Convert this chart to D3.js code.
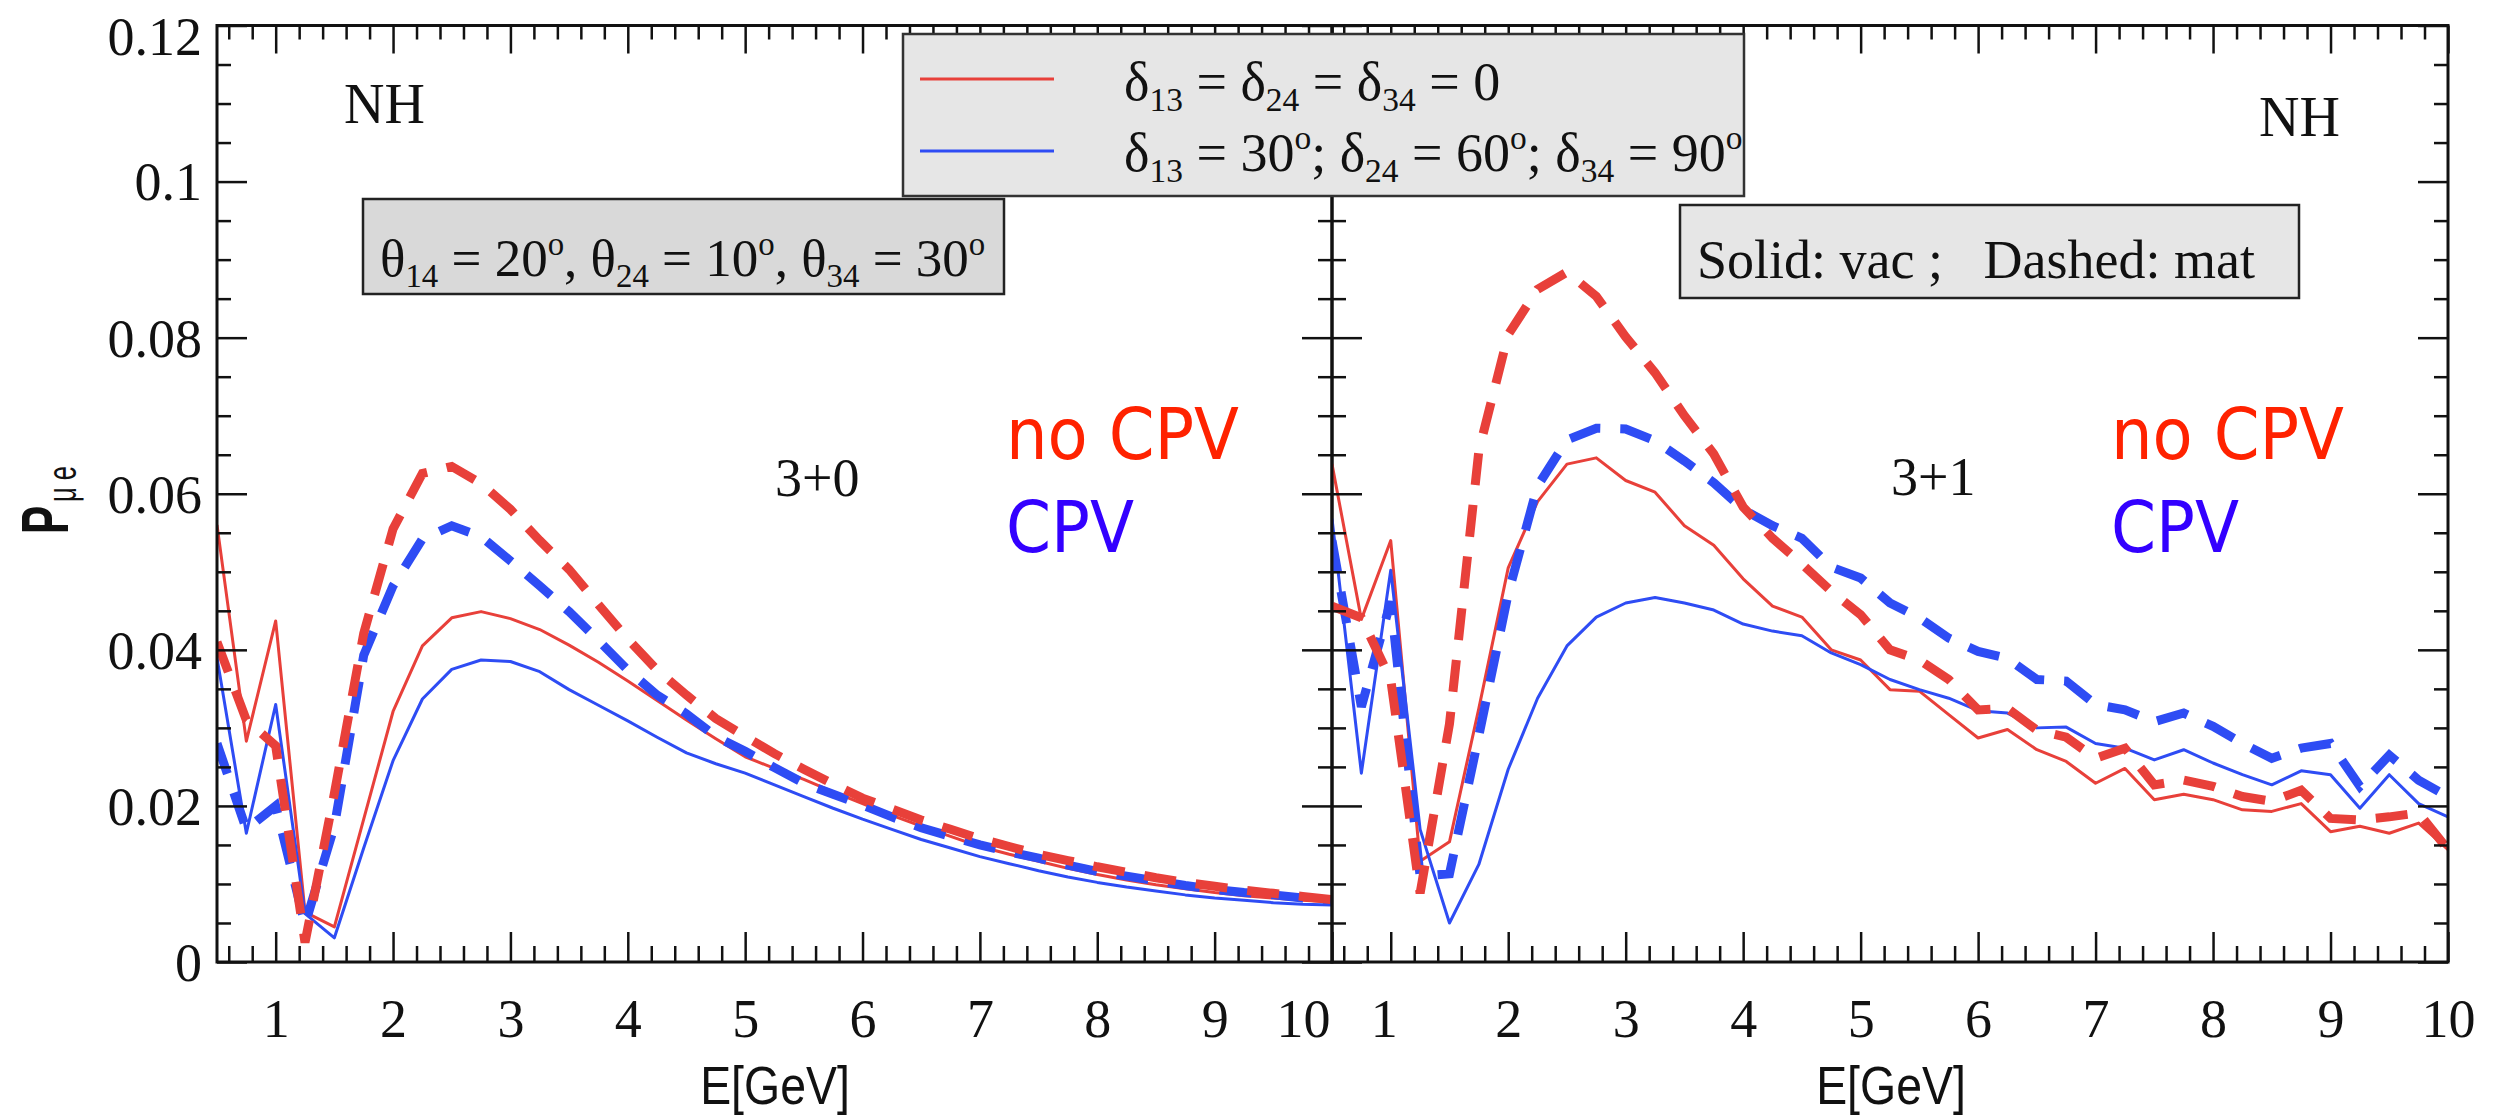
<!DOCTYPE html>
<html><head><meta charset="utf-8">
<script src="https://cdn.jsdelivr.net/npm/d3@7"></script>
<style>body{margin:0;background:#fff} svg{display:block}</style>
</head><body><svg id="c" width="2501" height="1119"></svg>
<script>
// ---------- data ----------
const energies = [0.5,0.75,1,1.25,1.5,1.75,2,2.25,2.5,2.75,3,3.25,3.5,3.75,4,4.25,4.5,4.75,5,5.25,5.5,5.75,6,6.25,6.5,6.75,7,7.25,7.5,7.75,8,8.25,8.5,8.75,9,9.25,9.5,9.75,10];

// 3+0 panel
const p30VacNoCPV = [0.056,0.0283,0.0437,0.0064,0.0045,0.0183,0.0321,0.0405,0.0441,0.0449,0.044,0.0426,0.0406,0.0384,0.036,0.0335,0.031,0.0286,0.0263,0.0248,0.0234,0.0218,0.0203,0.0188,0.0174,0.0161,0.0148,0.0138,0.0129,0.012,0.0112,0.0105,0.0099,0.0094,0.0089,0.0085,0.0082,0.0079,0.0077];
const p30VacCPV   = [0.039,0.0165,0.033,0.0062,0.0031,0.0146,0.0258,0.0337,0.0375,0.0387,0.0385,0.0372,0.0349,0.0329,0.0309,0.0288,0.0268,0.0254,0.0242,0.0227,0.0212,0.0197,0.0183,0.017,0.0157,0.0146,0.0135,0.0126,0.0117,0.0109,0.0102,0.0096,0.0091,0.0086,0.0082,0.0079,0.0076,0.0074,0.0073];
const p30MatNoCPV = [0.041,0.031,0.0277,0.0025,0.0216,0.0421,0.0555,0.0626,0.0635,0.0613,0.058,0.054,0.0503,0.0458,0.0414,0.0374,0.0342,0.0312,0.0289,0.0267,0.0247,0.0228,0.021,0.0196,0.0182,0.017,0.0158,0.0148,0.0138,0.013,0.0122,0.0115,0.0108,0.0102,0.0097,0.0092,0.0088,0.0084,0.008];
const p30MatCPV   = [0.028,0.017,0.02,0.0048,0.0174,0.0393,0.0482,0.0542,0.0559,0.0545,0.0514,0.0482,0.0449,0.0412,0.0374,0.0342,0.0318,0.0289,0.027,0.0249,0.0229,0.0215,0.0201,0.0186,0.0172,0.0161,0.015,0.0141,0.0133,0.0124,0.0116,0.011,0.0104,0.0098,0.0093,0.0089,0.0086,0.0082,0.0079];

// 3+1 panel
const p31VacNoCPV = [0.0638,0.0439,0.054,0.0129,0.0154,0.0325,0.0505,0.059,0.0638,0.0646,0.0617,0.0602,0.0559,0.0534,0.0491,0.0456,0.0442,0.04,0.0387,0.0349,0.0347,0.0317,0.0287,0.0298,0.0272,0.0257,0.0229,0.0248,0.0208,0.0215,0.0208,0.0195,0.0193,0.0203,0.0167,0.0174,0.0165,0.0178,0.0144];
const p31VacCPV   = [0.0568,0.0242,0.0502,0.017,0.005,0.0125,0.0247,0.0338,0.0405,0.0442,0.046,0.0467,0.046,0.0451,0.0433,0.0424,0.0418,0.0396,0.0381,0.0362,0.0349,0.0338,0.0322,0.0319,0.03,0.0301,0.028,0.0274,0.0259,0.0272,0.0255,0.024,0.0227,0.0245,0.024,0.0197,0.024,0.0203,0.0186];
const p31MatNoCPV = [0.0456,0.0441,0.0362,0.0088,0.0305,0.0655,0.0804,0.0862,0.0884,0.0853,0.0801,0.0755,0.07,0.0651,0.0583,0.0543,0.051,0.0475,0.0445,0.04,0.0387,0.0362,0.0323,0.0325,0.0297,0.0288,0.0261,0.0274,0.0227,0.0233,0.0225,0.0212,0.0206,0.022,0.0184,0.0182,0.0186,0.0191,0.0144];
const p31MatCPV   = [0.054,0.0327,0.0462,0.011,0.0113,0.029,0.0472,0.061,0.0669,0.0684,0.0683,0.0668,0.0642,0.0614,0.058,0.0559,0.0543,0.0506,0.0492,0.046,0.0441,0.0415,0.0398,0.0389,0.0362,0.036,0.033,0.0323,0.0308,0.0319,0.0302,0.028,0.0261,0.0274,0.028,0.0225,0.0265,0.0233,0.0212];

const yTickValues = [0,0.02,0.04,0.06,0.08,0.1,0.12];
const yTickLabels = ["0","0.02","0.04","0.06","0.08","0.1","0.12"];
const xTickValues = [1,2,3,4,5,6,7,8,9,10];
const xTickLabels = ["1","2","3","4","5","6","7","8","9","10"];
const panelNames = ["3+0","3+1"];

// ---------- layout ----------
const RED = "#e8403a", BLUE = "#2e4cf4";
const svg = d3.select("#c");
const yTop = 25.5, yBot = 962;
const y = d3.scaleLinear().domain([0,0.12]).range([yBot,yTop]);
const panels = [
  {x0:217, x1:1332, name:panelNames[0], s:[p30VacNoCPV,p30VacCPV,p30MatNoCPV,p30MatCPV], labels:true, titleX:775},
  {x0:1332, x1:2448, name:panelNames[1], s:[p31VacNoCPV,p31VacCPV,p31MatNoCPV,p31MatCPV], labels:false, titleX:1891}
];
const minorX = d3.range(0.6,10.0001,0.2).map(v=>+v.toFixed(2)).filter(v=>Math.abs(v-Math.round(v))>1e-6);
const minorY = d3.range(0,0.12001,0.005).map(v=>+v.toFixed(4)).filter(v=>Math.abs(v/0.02-Math.round(v/0.02))>1e-6);
const serif = "'Liberation Serif','Times New Roman',serif";

function styleAxis(g){
  g.select(".domain").remove();
  g.selectAll(".tick line").attr("stroke","#111").attr("stroke-width",2.5);
  g.selectAll("text").attr("font-family",serif).attr("font-size",54).attr("fill","#111");
}

panels.forEach((p,pi)=>{
  const x = d3.scaleLinear().domain([0.5,10]).range([p.x0,p.x1]);
  const clipId = "clip"+pi;
  svg.append("clipPath").attr("id",clipId).append("rect")
    .attr("x",p.x0).attr("y",yTop).attr("width",p.x1-p.x0).attr("height",yBot-yTop);

  const line = d3.line().x((d,i)=>x(energies[i])).y(d=>y(d));
  const lg = svg.append("g").attr("clip-path",`url(#${clipId})`);
  // solid: vacuum
  lg.append("path").datum(p.s[0]).attr("d",line).attr("fill","none").attr("stroke",RED).attr("stroke-width",3).attr("stroke-linejoin","round");
  lg.append("path").datum(p.s[1]).attr("d",line).attr("fill","none").attr("stroke",BLUE).attr("stroke-width",3).attr("stroke-linejoin","round");
  // dashed: matter
  lg.append("path").datum(p.s[3]).attr("d",line).attr("fill","none").attr("stroke",BLUE).attr("stroke-width",9).attr("stroke-dasharray","32,20");
  lg.append("path").datum(p.s[2]).attr("d",line).attr("fill","none").attr("stroke",RED).attr("stroke-width",9).attr("stroke-dasharray","32,20");

  // axes
  const bx = svg.append("g").attr("transform",`translate(0,${yBot})`)
    .call(d3.axisBottom(x).tickValues(xTickValues).tickSize(-30).tickPadding(37).tickFormat((d,i)=>xTickLabels[i]));
  styleAxis(bx);
  if (pi===0) bx.selectAll(".tick").filter(d=>d===10).select("text").attr("text-anchor","end").attr("x",(p.x1-2)-x(10));
  if (pi===1) bx.selectAll(".tick").filter(d=>d===1).select("text").attr("x",-7);
  const bxm = svg.append("g").attr("transform",`translate(0,${yBot})`)
    .call(d3.axisBottom(x).tickValues(minorX).tickSize(-16).tickFormat(""));
  styleAxis(bxm);
  const tx = svg.append("g").attr("transform",`translate(0,${yTop})`)
    .call(d3.axisTop(x).tickValues(xTickValues).tickSize(-28).tickFormat(""));
  styleAxis(tx);
  const txm = svg.append("g").attr("transform",`translate(0,${yTop})`)
    .call(d3.axisTop(x).tickValues(minorX).tickSize(-14).tickFormat(""));
  styleAxis(txm);

  const ly = svg.append("g").attr("transform",`translate(${p.x0},0)`)
    .call(d3.axisLeft(y).tickValues(yTickValues).tickSize(-30).tickPadding(15).tickFormat((d,i)=>p.labels?yTickLabels[i]:""));
  styleAxis(ly);
  ly.selectAll("text").attr("dy","0.34em");
  ly.selectAll(".tick").filter(d=>d===0.12).select("text").attr("dy","0.53em");
  const lym = svg.append("g").attr("transform",`translate(${p.x0},0)`)
    .call(d3.axisLeft(y).tickValues(minorY).tickSize(-14).tickFormat(""));
  styleAxis(lym);
  const ry = svg.append("g").attr("transform",`translate(${p.x1},0)`)
    .call(d3.axisRight(y).tickValues(yTickValues).tickSize(-30).tickFormat(""));
  styleAxis(ry);
  const rym = svg.append("g").attr("transform",`translate(${p.x1},0)`)
    .call(d3.axisRight(y).tickValues(minorY).tickSize(-14).tickFormat(""));
  styleAxis(rym);

  svg.append("rect").attr("x",p.x0).attr("y",yTop).attr("width",p.x1-p.x0).attr("height",yBot-yTop)
    .attr("fill","none").attr("stroke","#111").attr("stroke-width",3);

  // x-axis title
  svg.append("text").attr("transform",`translate(${p.titleX},1104) scale(0.86,1)`)
    .attr("text-anchor","middle").attr("font-family","'Liberation Sans',Arial,sans-serif").attr("font-size",54).attr("fill","#111").text("E[GeV]");

  // panel label
  svg.append("text").attr("x",pi===0?775:1891).attr("y",pi===0?496:495).attr("font-family",serif).attr("font-size",54).attr("fill","#111").text(p.name);
  // NH
  svg.append("text").attr("x",pi===0?344:2259).attr("y",pi===0?123:136).attr("font-family",serif).attr("font-size",56).attr("fill","#111").text("NH");
  // no CPV / CPV
  const cx = pi===0?1006:2111;
  svg.append("text").attr("x",cx).attr("y",459).attr("font-family","'DejaVu Sans',sans-serif").attr("font-size",71)
    .attr("fill","#ff2200").attr("textLength",233).attr("lengthAdjust","spacingAndGlyphs").text("no CPV");
  svg.append("text").attr("x",cx).attr("y",552).attr("font-family","'DejaVu Sans',sans-serif").attr("font-size",71)
    .attr("fill","#3300ff").attr("textLength",128).attr("lengthAdjust","spacingAndGlyphs").text("CPV");
});

// rich text helper
function rich(x, yy, parts, size){
  const t = svg.append("text").attr("x",x).attr("y",yy).attr("font-family",serif)
    .attr("font-size",size).attr("fill","#111").style("white-space","pre");
  let off = 0;
  parts.forEach(([s,k])=>{
    const target = k==="sub" ? size*0.2 : k==="sup" ? -size*0.4 : 0;
    t.append("tspan").attr("dy",target-off).attr("font-size",k==="n"?size:size*0.62).text(s);
    off = target;
  });
  return t;
}

// theta box
svg.append("rect").attr("x",363).attr("y",199).attr("width",641).attr("height",95)
  .attr("fill","#d9d9d9").attr("stroke","#222").attr("stroke-width",2.5);
rich(380, 276, [["θ","n"],["14","sub"],[" = 20","n"],["o","sup"],[", θ","n"],["24","sub"],[" = 10","n"],["o","sup"],[", θ","n"],["34","sub"],[" = 30","n"],["o","sup"]], 53);

// solid/dashed box
svg.append("rect").attr("x",1680).attr("y",205).attr("width",619).attr("height",93)
  .attr("fill","#e6e6e6").attr("stroke","#222").attr("stroke-width",2.5);
svg.append("text").attr("x",1697).attr("y",278).attr("font-family",serif).attr("font-size",54).attr("fill","#111")
  .style("white-space","pre").text("Solid: vac ;   Dashed: mat");

// legend box
svg.append("rect").attr("x",903).attr("y",34).attr("width",841).attr("height",162)
  .attr("fill","#e6e6e6").attr("stroke","#333").attr("stroke-width",2.5);
svg.append("line").attr("x1",920).attr("x2",1054).attr("y1",79).attr("y2",79).attr("stroke",RED).attr("stroke-width",3);
svg.append("line").attr("x1",920).attr("x2",1054).attr("y1",151).attr("y2",151).attr("stroke",BLUE).attr("stroke-width",3);
rich(1124, 100, [["δ","n"],["13","sub"],[" = δ","n"],["24","sub"],[" = δ","n"],["34","sub"],[" = 0","n"]], 54);
rich(1124, 171, [["δ","n"],["13","sub"],[" = 30","n"],["o","sup"],["; δ","n"],["24","sub"],[" = 60","n"],["o","sup"],["; δ","n"],["34","sub"],[" = 90","n"],["o","sup"]], 54);

// y-axis title P_{μ e}
const yt = svg.append("text").attr("transform","translate(68,534) rotate(-90) scale(0.64,1)")
  .attr("font-family","'Liberation Sans',Arial,sans-serif").attr("fill","#111").style("white-space","pre");
yt.append("tspan").attr("font-size",66).attr("font-weight","bold").text("P");
yt.append("tspan").attr("font-size",40).attr("dy",8).attr("dx",6).text("μ e");
</script></body></html>
